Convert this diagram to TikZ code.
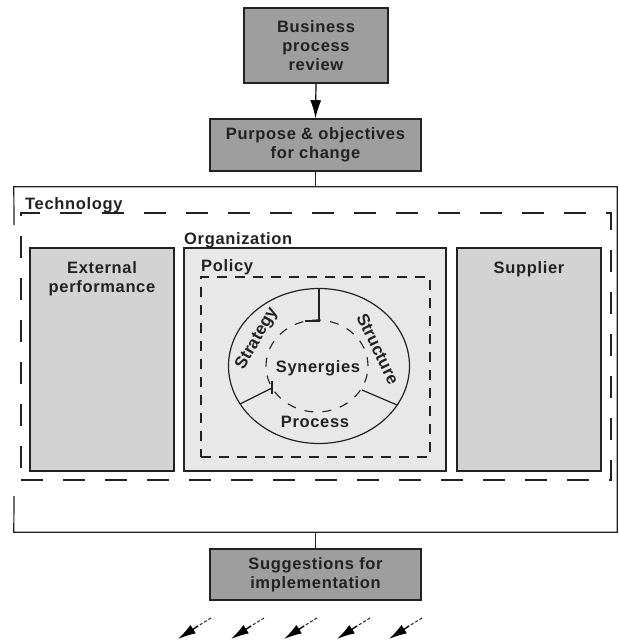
\documentclass[tikz,border=0pt]{standalone}
\usepackage{fontspec}
\setmainfont{Liberation Sans}
\usetikzlibrary{arrows.meta,shapes.geometric}
\definecolor{darkbox}{HTML}{9E9E9E}
\definecolor{midbox}{HTML}{D3D3D3}
\definecolor{lightbox}{HTML}{E8E8E8}
\definecolor{ink}{HTML}{222222}
\newcommand\lblfont{\fontsize{16.5}{19}\selectfont\bfseries\addfontfeatures{LetterSpace=4}}
\newcommand\rotfont{\fontsize{17}{19}\selectfont\bfseries}
\begin{document}
\begin{tikzpicture}[x=1pt,y=-1pt,
  box/.style={draw=ink, line width=1.6pt, rectangle, inner sep=0pt, align=center, font=\lblfont, text=ink},
  lbl/.style={font=\lblfont, text=ink, inner sep=0pt, align=center},
  rotlbl/.style={font=\rotfont, text=ink, inner sep=0pt},
  techdash/.style={draw=ink, line width=2pt, dash pattern=on 22pt off 20pt},
  poldash/.style={draw=ink, line width=1.5pt, dash pattern=on 10pt off 8pt},
  thinline/.style={draw=ink, line width=1.2pt},
  tailline/.style={draw=ink, line width=1pt, dash pattern=on 3pt off 2pt},
  headline/.style={draw=black, line width=1.4pt, -{Latex[length=18pt,width=10pt,fill=black]}}
]
\useasboundingbox (0,0) rectangle (618,644);
\fill[white] (0,0) rectangle (618,644);

% top boxes
\node[box, fill=darkbox, minimum width=144pt, minimum height=75pt] (bpr) at (316,45.5) {Business\\process\\review};
\node[box, fill=darkbox, minimum width=211pt, minimum height=52pt] (poc) at (315.5,145) {Purpose \& objectives\\for change};

% outer frame
\node[minimum width=603pt, minimum height=345pt, inner sep=0pt] (frame) at (315.5,359.5) {};
\coordinate (fl1) at (14,225);
\coordinate (fl2) at (14,496);
\draw[thinline] (fl1) -- (frame.north west) -- (frame.north east) -- (frame.south east) -- (frame.south west) -- (fl2);

% technology
\node[techdash, minimum width=590pt, minimum height=267pt, inner sep=0pt] (tech) at (316,346.5) {};
\node[lbl, anchor=base west] (techlbl) at (25,209) {Technology};

% three columns
\node[box, fill=midbox, minimum width=144pt, minimum height=223pt] (ext) at (102,359.5) {};
\node[lbl] (extlbl) at (102,279) {External\\performance};
\node[box, fill=lightbox, minimum width=262pt, minimum height=223pt] (org) at (315,359.5) {};
\node[lbl, anchor=base west] (orglbl) at (184,244) {Organization};
\node[box, fill=midbox, minimum width=144pt, minimum height=223pt] (sup) at (529,359.5) {};
\node[lbl] (suplbl) at (529,269) {Supplier};

% policy
\node[poldash, minimum width=229pt, minimum height=180pt, inner sep=0pt] (pol) at (315.5,367) {};
\node[lbl, anchor=base west] (pollbl) at (201,271) {Policy};

% circles
\node[ellipse, draw=ink, line width=1.2pt, minimum width=181pt, minimum height=155pt, inner sep=0pt] (outer) at (319,366) {};
\node[ellipse, draw=ink, line width=1.1pt, dash pattern=on 9pt off 9pt, minimum width=102pt, minimum height=92pt, inner sep=0pt] (inner) at (317,366) {};

\coordinate (d1a) at (319,289);
\coordinate (d1b) at (319,321);
\coordinate (d1c) at (305,321);
\draw[thinline] (d1a) -- (d1b) -- (d1c);
\coordinate (d2a) at (240,404);
\coordinate (d2b) at (272,388);
\coordinate (d2t1) at (272,381);
\coordinate (d2t2) at (272,394);
\draw[thinline] (d2a) -- (d2b);
\draw[thinline] (d2t1) -- (d2t2);
\coordinate (d3a) at (397,405);
\coordinate (d3b) at (362,390);
\draw[thinline] (d3a) -- (d3b);

\node[rotlbl, rotate=60] (strat) at (257,339) {Strategy};
\node[rotlbl, rotate=-64] (struc) at (378,349) {Structure};
\node[lbl] (syn) at (318,368) {Synergies};
\node[lbl] (proc) at (315,422) {Process};

% bottom box
\node[box, fill=darkbox, minimum width=211pt, minimum height=51pt] (sugg) at (315.5,574.5) {Suggestions for\\implementation};

% connectors
\draw[draw=black, line width=1.2pt, -{Latex[length=18pt,width=11pt,fill=black]}] (bpr.south) -- (poc.north);
\draw[thinline] (poc.south) -- (poc.south |- frame.north);
\draw[thinline] (frame.south) -- (sugg.north);

% output arrows
\foreach \i/\x in {1/178,2/231,3/284,4/337,5/389}{
  \coordinate (as\i) at (\x+33,618);
  \coordinate (am\i) at (\x+20,626);
  \coordinate (ae\i) at (\x,639);
  \draw[tailline] (as\i) -- (am\i);
  \draw[headline] (am\i) -- (ae\i);
}
\end{tikzpicture}
\end{document}
